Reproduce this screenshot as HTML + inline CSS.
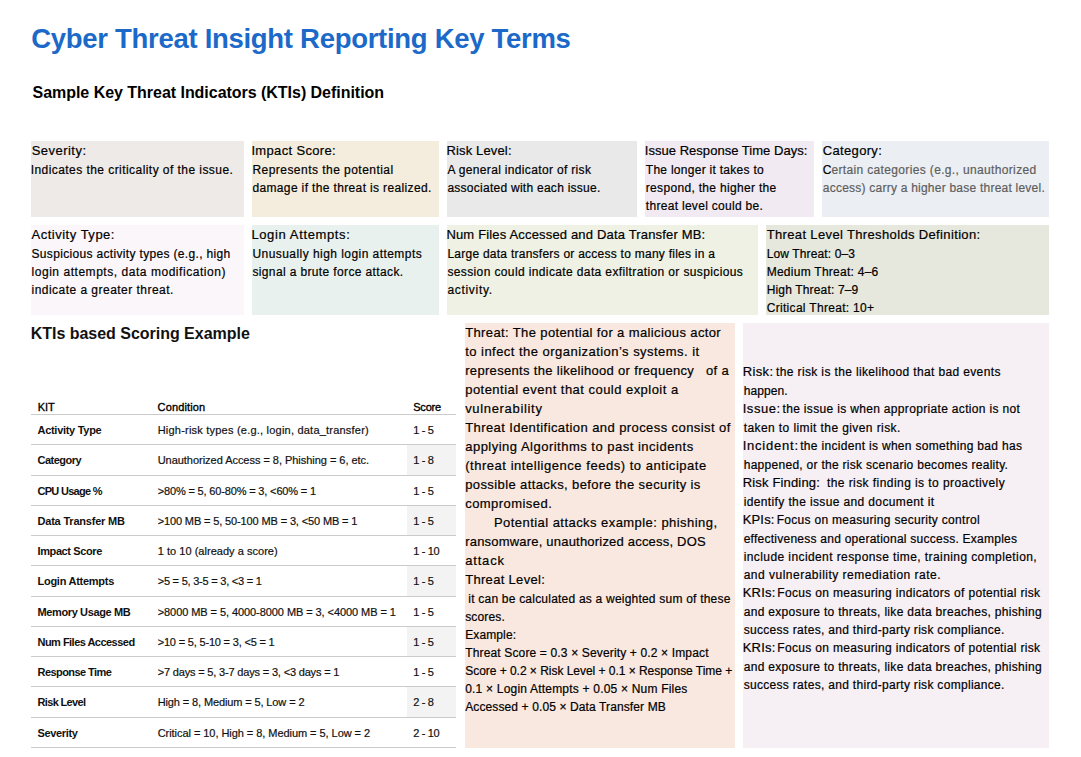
<!DOCTYPE html>
<html><head><meta charset="utf-8"><style>
html,body{margin:0;padding:0;background:#fff;width:1081px;height:757px;overflow:hidden}
body{position:relative;font-family:"Liberation Sans",sans-serif;}
.b{position:absolute}
.t{position:absolute;white-space:pre;line-height:1;margin:0;-webkit-text-stroke:0.2px currentColor}
.hl{position:absolute;height:1px;background:#cbcbcb}
</style></head><body>

<div class="b" style="left:31px;top:141px;width:213px;height:76px;background:#eeeae7"></div>
<div class="b" style="left:252px;top:141px;width:187px;height:76px;background:#f4ecdc"></div>
<div class="b" style="left:447px;top:141px;width:190px;height:76px;background:#e9e9e9"></div>
<div class="b" style="left:645px;top:141px;width:169px;height:76px;background:#f1eaf2"></div>
<div class="b" style="left:822px;top:141px;width:227px;height:76px;background:#ebeef2"></div>
<div class="b" style="left:31px;top:225px;width:213px;height:90px;background:#faf6fa"></div>
<div class="b" style="left:252px;top:225px;width:187px;height:90px;background:#e8f1ee"></div>
<div class="b" style="left:447px;top:225px;width:311px;height:90px;background:#eef1e3"></div>
<div class="b" style="left:766px;top:225px;width:283px;height:90px;background:#e6e7dd"></div>
<div class="b" style="left:465px;top:323px;width:270px;height:425px;background:#f9e8df"></div>
<div class="b" style="left:743px;top:323px;width:306px;height:425px;background:#f6eff4"></div>
<div class="b" style="left:407px;top:445px;width:49px;height:30px;background:#f3f3f3"></div>
<div class="b" style="left:407px;top:506px;width:49px;height:29px;background:#f3f3f3"></div>
<div class="b" style="left:407px;top:566px;width:49px;height:30px;background:#f3f3f3"></div>
<div class="b" style="left:407px;top:627px;width:49px;height:29px;background:#f3f3f3"></div>
<div class="b" style="left:407px;top:687px;width:49px;height:30px;background:#f3f3f3"></div>
<div class="hl" style="left:31px;top:414px;width:425px"></div>
<div class="hl" style="left:31px;top:444px;width:425px"></div>
<div class="hl" style="left:31px;top:475px;width:425px"></div>
<div class="hl" style="left:31px;top:505px;width:425px"></div>
<div class="hl" style="left:31px;top:535px;width:425px"></div>
<div class="hl" style="left:31px;top:565px;width:425px"></div>
<div class="hl" style="left:31px;top:596px;width:425px"></div>
<div class="hl" style="left:31px;top:626px;width:425px"></div>
<div class="hl" style="left:31px;top:656px;width:425px"></div>
<div class="hl" style="left:31px;top:686px;width:425px"></div>
<div class="hl" style="left:31px;top:717px;width:425px"></div>
<div class="hl" style="left:31px;top:747px;width:425px"></div>
<div class="t" style="left:31.20px;top:25px;font-size:27.5px;font-weight:700;-webkit-text-stroke:0;color:#1b69c8;letter-spacing:-0.293px;">Cyber Threat Insight Reporting Key Terms</div>
<div class="t" style="left:32.50px;top:85px;font-size:16px;font-weight:700;-webkit-text-stroke:0;color:#000;letter-spacing:-0.030px;">Sample Key Threat Indicators (KTIs) Definition</div>
<div class="t" style="left:31.70px;top:144px;font-size:13px;color:#000;letter-spacing:0.468px;">Severity:</div>
<div class="t" style="left:30.70px;top:164px;font-size:12px;color:#000;letter-spacing:0.440px;">Indicates the criticality of the issue.</div>
<div class="t" style="left:251.40px;top:144px;font-size:13px;color:#000;letter-spacing:0.343px;">Impact Score:</div>
<div class="t" style="left:252.40px;top:164px;font-size:12px;color:#000;letter-spacing:0.464px;">Represents the potential</div>
<div class="t" style="left:252.40px;top:182px;font-size:12px;color:#000;letter-spacing:0.360px;">damage if the threat is realized.</div>
<div class="t" style="left:446.40px;top:144px;font-size:13px;color:#000;letter-spacing:0.153px;">Risk Level:</div>
<div class="t" style="left:447.40px;top:164px;font-size:12px;color:#000;letter-spacing:0.339px;">A general indicator of risk</div>
<div class="t" style="left:447.40px;top:182px;font-size:12px;color:#000;letter-spacing:0.264px;">associated with each issue.</div>
<div class="t" style="left:644.80px;top:144px;font-size:13px;color:#000;letter-spacing:0.030px;">Issue Response Time Days:</div>
<div class="t" style="left:645.80px;top:164px;font-size:12px;color:#000;letter-spacing:0.277px;">The longer it takes to</div>
<div class="t" style="left:645.80px;top:182px;font-size:12px;color:#000;letter-spacing:0.321px;">respond, the higher the</div>
<div class="t" style="left:645.80px;top:200px;font-size:12px;color:#000;letter-spacing:0.300px;">threat level could be.</div>
<div class="t" style="left:822.80px;top:144px;font-size:13px;color:#000;letter-spacing:0.331px;">Category:</div>
<div class="t" style="left:822.80px;top:164px;font-size:12px;color:#000;">C</div>
<div class="t" style="left:831.40px;top:164px;font-size:12px;color:#5e5e5e;letter-spacing:0.352px;">ertain categories (e.g., unauthorized</div>
<div class="t" style="left:822.80px;top:182px;font-size:12px;color:#5e5e5e;letter-spacing:0.229px;">access) carry a higher base threat level.</div>
<div class="t" style="left:31.50px;top:228px;font-size:13px;color:#000;letter-spacing:0.510px;">Activity Type:</div>
<div class="t" style="left:31.50px;top:248px;font-size:12px;color:#000;letter-spacing:0.331px;">Suspicious activity types (e.g., high</div>
<div class="t" style="left:31.50px;top:266px;font-size:12px;color:#000;letter-spacing:0.540px;">login attempts, data modification)</div>
<div class="t" style="left:31.50px;top:284px;font-size:12px;color:#000;letter-spacing:0.470px;">indicate a greater threat.</div>
<div class="t" style="left:251.40px;top:228px;font-size:13px;color:#000;letter-spacing:0.627px;">Login Attempts:</div>
<div class="t" style="left:252.40px;top:248px;font-size:12px;color:#000;letter-spacing:0.448px;">Unusually high login attempts</div>
<div class="t" style="left:252.40px;top:266px;font-size:12px;color:#000;letter-spacing:0.370px;">signal a brute force attack.</div>
<div class="t" style="left:446.40px;top:228px;font-size:13px;color:#000;letter-spacing:0.169px;">Num Files Accessed and Data Transfer MB:</div>
<div class="t" style="left:447.40px;top:248px;font-size:12px;color:#000;letter-spacing:0.252px;">Large data transfers or access to many files in a</div>
<div class="t" style="left:447.40px;top:266px;font-size:12px;color:#000;letter-spacing:0.376px;">session could indicate data exfiltration or suspicious</div>
<div class="t" style="left:447.40px;top:284px;font-size:12px;color:#000;letter-spacing:0.702px;">activity.</div>
<div class="t" style="left:766.70px;top:228px;font-size:13px;color:#000;letter-spacing:0.356px;">Threat Level Thresholds Definition:</div>
<div class="t" style="left:766.70px;top:248px;font-size:12px;color:#000;letter-spacing:0.125px;">Low Threat: 0–3</div>
<div class="t" style="left:766.70px;top:266px;font-size:12px;color:#000;letter-spacing:0.258px;">Medium Threat: 4–6</div>
<div class="t" style="left:766.70px;top:284px;font-size:12px;color:#000;letter-spacing:0.159px;">High Threat: 7–9</div>
<div class="t" style="left:766.70px;top:302px;font-size:12px;color:#000;letter-spacing:0.311px;">Critical Threat: 10+</div>
<div class="t" style="left:30.70px;top:326px;font-size:16px;font-weight:700;-webkit-text-stroke:0;color:#111;letter-spacing:-0.021px;">KTIs based Scoring Example</div>
<div class="t" style="left:37.70px;top:402px;font-size:11px;-webkit-text-stroke:0.35px currentColor;color:#000;">KIT</div>
<div class="t" style="left:157.60px;top:402px;font-size:11px;-webkit-text-stroke:0.35px currentColor;color:#000;letter-spacing:0.130px;">Condition</div>
<div class="t" style="left:413.20px;top:402px;font-size:11px;-webkit-text-stroke:0.35px currentColor;color:#000;letter-spacing:-0.179px;">Score</div>
<div class="t" style="left:37.50px;top:425px;font-size:11px;font-weight:700;-webkit-text-stroke:0;color:#111;letter-spacing:-0.286px;">Activity Type</div>
<div class="t" style="left:157.70px;top:425px;font-size:11px;color:#111;letter-spacing:0.216px;">High-risk types (e.g., login, data_transfer)</div>
<div class="t" style="left:413.20px;top:425px;font-size:11px;color:#111;letter-spacing:-0.348px;">1 - 5</div>
<div class="t" style="left:37.50px;top:455px;font-size:11px;font-weight:700;-webkit-text-stroke:0;color:#111;letter-spacing:-0.509px;">Category</div>
<div class="t" style="left:157.70px;top:455px;font-size:11px;color:#111;letter-spacing:-0.034px;">Unauthorized Access = 8, Phishing = 6, etc.</div>
<div class="t" style="left:413.20px;top:455px;font-size:11px;color:#111;letter-spacing:-0.348px;">1 - 8</div>
<div class="t" style="left:37.50px;top:486px;font-size:11px;font-weight:700;-webkit-text-stroke:0;color:#111;letter-spacing:-0.715px;">CPU Usage %</div>
<div class="t" style="left:157.70px;top:486px;font-size:11px;color:#111;letter-spacing:-0.157px;">&gt;80% = 5, 60-80% = 3, &lt;60% = 1</div>
<div class="t" style="left:413.20px;top:486px;font-size:11px;color:#111;letter-spacing:-0.348px;">1 - 5</div>
<div class="t" style="left:37.50px;top:516px;font-size:11px;font-weight:700;-webkit-text-stroke:0;color:#111;letter-spacing:-0.202px;">Data Transfer MB</div>
<div class="t" style="left:157.70px;top:516px;font-size:11px;color:#111;letter-spacing:-0.130px;">&gt;100 MB = 5, 50-100 MB = 3, &lt;50 MB = 1</div>
<div class="t" style="left:413.20px;top:516px;font-size:11px;color:#111;letter-spacing:-0.348px;">1 - 5</div>
<div class="t" style="left:37.50px;top:546px;font-size:11px;font-weight:700;-webkit-text-stroke:0;color:#111;letter-spacing:-0.388px;">Impact Score</div>
<div class="t" style="left:157.70px;top:546px;font-size:11px;color:#111;letter-spacing:0.031px;">1 to 10 (already a score)</div>
<div class="t" style="left:413.20px;top:546px;font-size:11px;color:#111;letter-spacing:-0.322px;">1 - 10</div>
<div class="t" style="left:37.50px;top:576px;font-size:11px;font-weight:700;-webkit-text-stroke:0;color:#111;letter-spacing:-0.265px;">Login Attempts</div>
<div class="t" style="left:157.70px;top:576px;font-size:11px;color:#111;letter-spacing:-0.225px;">&gt;5 = 5, 3-5 = 3, &lt;3 = 1</div>
<div class="t" style="left:413.20px;top:576px;font-size:11px;color:#111;letter-spacing:-0.348px;">1 - 5</div>
<div class="t" style="left:37.50px;top:607px;font-size:11px;font-weight:700;-webkit-text-stroke:0;color:#111;letter-spacing:-0.376px;">Memory Usage MB</div>
<div class="t" style="left:157.70px;top:607px;font-size:11px;color:#111;letter-spacing:-0.070px;">&gt;8000 MB = 5, 4000-8000 MB = 3, &lt;4000 MB = 1</div>
<div class="t" style="left:413.20px;top:607px;font-size:11px;color:#111;letter-spacing:-0.348px;">1 - 5</div>
<div class="t" style="left:37.50px;top:637px;font-size:11px;font-weight:700;-webkit-text-stroke:0;color:#111;letter-spacing:-0.528px;">Num Files Accessed</div>
<div class="t" style="left:157.70px;top:637px;font-size:11px;color:#111;letter-spacing:-0.183px;">&gt;10 = 5, 5-10 = 3, &lt;5 = 1</div>
<div class="t" style="left:413.20px;top:637px;font-size:11px;color:#111;letter-spacing:-0.348px;">1 - 5</div>
<div class="t" style="left:37.50px;top:667px;font-size:11px;font-weight:700;-webkit-text-stroke:0;color:#111;letter-spacing:-0.557px;">Response Time</div>
<div class="t" style="left:157.70px;top:667px;font-size:11px;color:#111;letter-spacing:-0.171px;">&gt;7 days = 5, 3-7 days = 3, &lt;3 days = 1</div>
<div class="t" style="left:413.20px;top:667px;font-size:11px;color:#111;letter-spacing:-0.348px;">1 - 5</div>
<div class="t" style="left:37.50px;top:697px;font-size:11px;font-weight:700;-webkit-text-stroke:0;color:#111;letter-spacing:-0.652px;">Risk Level</div>
<div class="t" style="left:157.70px;top:697px;font-size:11px;color:#111;letter-spacing:-0.118px;">High = 8, Medium = 5, Low = 2</div>
<div class="t" style="left:413.20px;top:697px;font-size:11px;color:#111;letter-spacing:-0.348px;">2 - 8</div>
<div class="t" style="left:37.50px;top:728px;font-size:11px;font-weight:700;-webkit-text-stroke:0;color:#111;letter-spacing:-0.341px;">Severity</div>
<div class="t" style="left:157.70px;top:728px;font-size:11px;color:#111;letter-spacing:-0.051px;">Critical = 10, High = 8, Medium = 5, Low = 2</div>
<div class="t" style="left:413.20px;top:728px;font-size:11px;color:#111;letter-spacing:-0.322px;">2 - 10</div>
<div class="t" style="left:465.20px;top:326px;font-size:13px;color:#000;letter-spacing:0.377px;">Threat: The potential for a malicious actor</div>
<div class="t" style="left:465.20px;top:345px;font-size:13px;color:#000;letter-spacing:0.467px;">to infect the organization’s systems. it</div>
<div class="t" style="left:465.20px;top:364px;font-size:13px;color:#000;letter-spacing:0.321px;">represents the likelihood or frequency   of a</div>
<div class="t" style="left:465.20px;top:383px;font-size:13px;color:#000;letter-spacing:0.467px;">potential event that could exploit a</div>
<div class="t" style="left:465.20px;top:402px;font-size:13px;color:#000;letter-spacing:0.671px;">vulnerability</div>
<div class="t" style="left:465.20px;top:421px;font-size:13px;color:#000;letter-spacing:0.418px;">Threat Identification and process consist of</div>
<div class="t" style="left:465.20px;top:440px;font-size:13px;color:#000;letter-spacing:0.492px;">applying Algorithms to past incidents</div>
<div class="t" style="left:465.20px;top:459px;font-size:13px;color:#000;letter-spacing:0.534px;">(threat intelligence feeds) to anticipate</div>
<div class="t" style="left:465.20px;top:478px;font-size:13px;color:#000;letter-spacing:0.398px;">possible attacks, before the security is</div>
<div class="t" style="left:465.20px;top:497px;font-size:13px;color:#000;letter-spacing:0.452px;">compromised.</div>
<div class="t" style="left:494.00px;top:516px;font-size:13px;color:#000;letter-spacing:0.446px;">Potential attacks example: phishing,</div>
<div class="t" style="left:465.20px;top:535px;font-size:13px;color:#000;letter-spacing:0.202px;">ransomware, unauthorized access, DOS</div>
<div class="t" style="left:465.20px;top:554px;font-size:13px;color:#000;letter-spacing:0.823px;">attack</div>
<div class="t" style="left:465.20px;top:573px;font-size:13px;color:#000;letter-spacing:0.312px;">Threat Level:</div>
<div class="t" style="left:468.30px;top:593px;font-size:12px;color:#000;letter-spacing:0.216px;">it can be calculated as a weighted sum of these</div>
<div class="t" style="left:465.20px;top:611px;font-size:12px;color:#000;letter-spacing:0.159px;">scores.</div>
<div class="t" style="left:465.20px;top:629px;font-size:12px;color:#000;letter-spacing:0.116px;">Example:</div>
<div class="t" style="left:465.20px;top:647px;font-size:12px;color:#000;letter-spacing:0.152px;">Threat Score = 0.3 × Severity + 0.2 × Impact</div>
<div class="t" style="left:465.20px;top:665px;font-size:12px;color:#000;letter-spacing:-0.030px;">Score + 0.2 × Risk Level + 0.1 × Response Time +</div>
<div class="t" style="left:465.20px;top:683px;font-size:12px;color:#000;letter-spacing:0.202px;">0.1 × Login Attempts + 0.05 × Num Files</div>
<div class="t" style="left:465.20px;top:701px;font-size:12px;color:#000;letter-spacing:0.116px;">Accessed + 0.05 × Data Transfer MB</div>
<div class="t" style="left:742.70px;top:365px;font-size:13px;color:#000;letter-spacing:0.356px;">Risk:</div>
<div class="t" style="left:776.10px;top:366px;font-size:12px;color:#000;letter-spacing:0.362px;">the risk is the likelihood that bad events</div>
<div class="t" style="left:743.70px;top:385px;font-size:12px;color:#000;letter-spacing:0.093px;">happen.</div>
<div class="t" style="left:742.70px;top:402px;font-size:13px;color:#000;letter-spacing:0.566px;">Issue:</div>
<div class="t" style="left:782.50px;top:403px;font-size:12px;color:#000;letter-spacing:0.330px;">the issue is when appropriate action is not</div>
<div class="t" style="left:743.70px;top:422px;font-size:12px;color:#000;letter-spacing:0.411px;">taken to limit the given risk.</div>
<div class="t" style="left:742.70px;top:439px;font-size:13px;color:#000;letter-spacing:0.771px;">Incident:</div>
<div class="t" style="left:800.20px;top:440px;font-size:12px;color:#000;letter-spacing:0.313px;">the incident is when something bad has</div>
<div class="t" style="left:743.70px;top:459px;font-size:12px;color:#000;letter-spacing:0.282px;">happened, or the risk scenario becomes reality.</div>
<div class="t" style="left:742.70px;top:476px;font-size:13px;color:#000;letter-spacing:0.165px;">Risk Finding:</div>
<div class="t" style="left:826.90px;top:477px;font-size:12px;color:#000;letter-spacing:0.436px;">the risk finding is to proactively</div>
<div class="t" style="left:743.70px;top:496px;font-size:12px;color:#000;letter-spacing:0.371px;">identify the issue and document it</div>
<div class="t" style="left:742.70px;top:513px;font-size:13px;color:#000;letter-spacing:0.162px;">KPIs:</div>
<div class="t" style="left:776.70px;top:514px;font-size:12px;color:#000;letter-spacing:0.298px;">Focus on measuring security control</div>
<div class="t" style="left:743.70px;top:533px;font-size:12px;color:#000;letter-spacing:0.247px;">effectiveness and operational success. Examples</div>
<div class="t" style="left:743.70px;top:551px;font-size:12px;color:#000;letter-spacing:0.408px;">include incident response time, training completion,</div>
<div class="t" style="left:743.70px;top:569px;font-size:12px;color:#000;letter-spacing:0.492px;">and vulnerability remediation rate.</div>
<div class="t" style="left:742.70px;top:586px;font-size:13px;color:#000;letter-spacing:0.207px;">KRIs:</div>
<div class="t" style="left:777.30px;top:587px;font-size:12px;color:#000;letter-spacing:0.334px;">Focus on measuring indicators of potential risk</div>
<div class="t" style="left:743.70px;top:606px;font-size:12px;color:#000;letter-spacing:0.318px;">and exposure to threats, like data breaches, phishing</div>
<div class="t" style="left:743.70px;top:624px;font-size:12px;color:#000;letter-spacing:0.304px;">success rates, and third-party risk compliance.</div>
<div class="t" style="left:742.70px;top:641px;font-size:13px;color:#000;letter-spacing:0.207px;">KRIs:</div>
<div class="t" style="left:777.30px;top:642px;font-size:12px;color:#000;letter-spacing:0.334px;">Focus on measuring indicators of potential risk</div>
<div class="t" style="left:743.70px;top:661px;font-size:12px;color:#000;letter-spacing:0.318px;">and exposure to threats, like data breaches, phishing</div>
<div class="t" style="left:743.70px;top:679px;font-size:12px;color:#000;letter-spacing:0.304px;">success rates, and third-party risk compliance.</div>
</body></html>
